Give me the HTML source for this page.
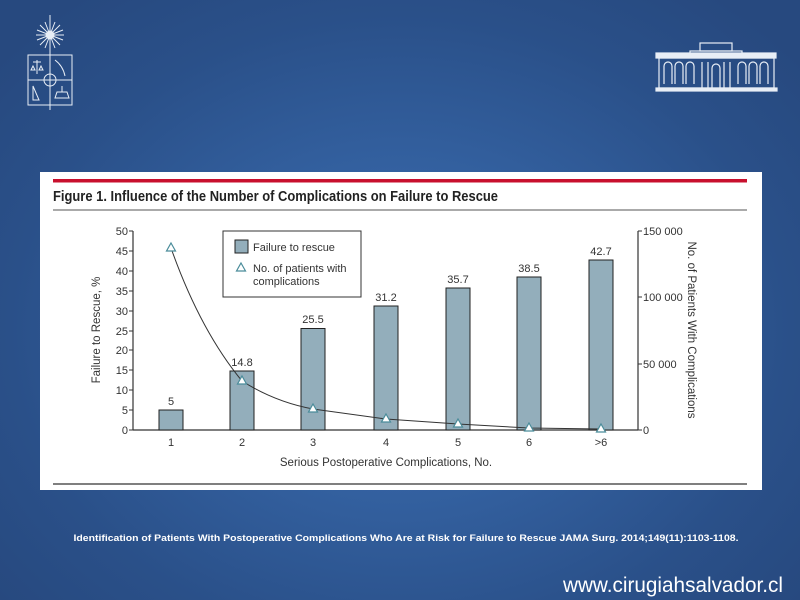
<!DOCTYPE html>
<html><head><meta charset="utf-8"><style>
html,body{margin:0;padding:0;}
body{width:800px;height:600px;overflow:hidden;position:relative;font-family:"Liberation Sans",sans-serif;
background:radial-gradient(ellipse 520px 420px at 400px 330px,#3f6fae 0%,#33609f 40%,#2a5089 75%,#27497f 100%);}
</style></head><body>
<svg width="800" height="600" style="position:absolute;left:0;top:0" font-family="Liberation Sans, sans-serif">
<!-- shield logo -->
<g stroke="#e8eef6" fill="none" stroke-width="1">
<g transform="translate(50,35)">
<line x1="-14" y1="0" x2="14" y2="0"/><line x1="0" y1="-20" x2="0" y2="20"/>
<line x1="-10" y1="-10" x2="10" y2="10"/><line x1="-10" y1="10" x2="10" y2="-10"/>
<line x1="-13" y1="-5" x2="13" y2="5"/><line x1="-13" y1="5" x2="13" y2="-5"/>
<line x1="-5" y1="-13" x2="5" y2="13"/><line x1="5" y1="-13" x2="-5" y2="13"/>
<circle r="4" fill="#e8eef6"/>
</g>
<rect x="28" y="55" width="44" height="50"/>
<line x1="50" y1="55" x2="50" y2="110"/><line x1="28" y1="80" x2="72" y2="80"/>
<circle cx="50" cy="80" r="6"/>
<path d="M33 62 l8 0 M37 60 l0 14 M33 66 l-2 4 l4 0 z M41 66 l-2 4 l4 0z"/>
<path d="M55 60 q8 6 10 16"/>
<path d="M33 86 l6 14 l-6 0z M55 98 l14 0 l-2-6 l-10 0z M62 86 l0 6"/>
</g>
<!-- building logo -->
<g stroke="#e8eef6" fill="none" stroke-width="1.2">
<rect x="700" y="43" width="32" height="8"/>
<rect x="690" y="51" width="52" height="6"/>
<rect x="656" y="53" width="120" height="5" fill="#e8eef6"/>
<rect x="659" y="58" width="115" height="30"/>
<path d="M664 84 v-18 a4 4 0 0 1 8 0 v18 M675 84 v-18 a4 4 0 0 1 8 0 v18 M686 84 v-18 a4 4 0 0 1 8 0 v18"/>
<path d="M738 84 v-18 a4 4 0 0 1 8 0 v18 M749 84 v-18 a4 4 0 0 1 8 0 v18 M760 84 v-18 a4 4 0 0 1 8 0 v18"/>
<path d="M702 88 v-26 M708 88 v-26 M724 88 v-26 M730 88 v-26 M712 88 v-20 a4 4 0 0 1 8 0 v20"/>
<rect x="656" y="88" width="121" height="3" fill="#e8eef6"/>
</g>

<!-- white panel -->
<rect x="40" y="172" width="722" height="318" fill="#ffffff"/>
<rect x="53" y="179" width="694" height="3.5" fill="#c8102e"/>
<text x="53" y="201" font-size="14.5" font-weight="bold" fill="#222" textLength="445" lengthAdjust="spacingAndGlyphs">Figure 1. Influence of the Number of Complications on Failure to Rescue</text>
<line x1="53" y1="210" x2="747" y2="210" stroke="#555" stroke-width="1"/>
<line x1="53" y1="484" x2="747" y2="484" stroke="#333" stroke-width="1.2"/>

<!-- axes -->
<g stroke="#333" stroke-width="1.2" fill="none">
<line x1="133" y1="231" x2="133" y2="430"/>
<line x1="133" y1="430" x2="638" y2="430"/>
<line x1="638" y1="231" x2="638" y2="430"/>
</g>
<g stroke="#333" stroke-width="1">
<line x1="129" y1="231" x2="133" y2="231"/><line x1="129" y1="251" x2="133" y2="251"/>
<line x1="129" y1="271" x2="133" y2="271"/><line x1="129" y1="291" x2="133" y2="291"/>
<line x1="129" y1="311" x2="133" y2="311"/><line x1="129" y1="331" x2="133" y2="331"/>
<line x1="129" y1="350" x2="133" y2="350"/><line x1="129" y1="370" x2="133" y2="370"/>
<line x1="129" y1="390" x2="133" y2="390"/><line x1="129" y1="410" x2="133" y2="410"/>
<line x1="129" y1="430" x2="133" y2="430"/>
<line x1="638" y1="231" x2="642" y2="231"/><line x1="638" y1="297" x2="642" y2="297"/>
<line x1="638" y1="364" x2="642" y2="364"/><line x1="638" y1="430" x2="642" y2="430"/>
</g>
<g font-size="11" fill="#333" text-anchor="end">
<text x="128" y="235">50</text><text x="128" y="255">45</text><text x="128" y="275">40</text>
<text x="128" y="295">35</text><text x="128" y="315">30</text><text x="128" y="335">25</text>
<text x="128" y="354">20</text><text x="128" y="374">15</text><text x="128" y="394">10</text>
<text x="128" y="414">5</text><text x="128" y="434">0</text>
</g>
<g font-size="11" fill="#333">
<text x="643" y="235">150 000</text><text x="643" y="301">100 000</text>
<text x="643" y="368">50 000</text><text x="643" y="434">0</text>
</g>
<text transform="translate(100,330) rotate(-90)" font-size="11.5" fill="#333" text-anchor="middle">Failure to Rescue, %</text>
<text transform="translate(688,330) rotate(90)" font-size="11.5" fill="#333" text-anchor="middle">No. of Patients With Complications</text>

<!-- bars -->
<g fill="#93aebb" stroke="#222" stroke-width="1">
<rect x="159" y="410" width="24" height="20"/>
<rect x="230" y="371" width="24" height="59"/>
<rect x="301" y="328.5" width="24" height="101.5"/>
<rect x="374" y="306" width="24" height="124"/>
<rect x="446" y="288" width="24" height="142"/>
<rect x="517" y="277" width="24" height="153"/>
<rect x="589" y="260" width="24" height="170"/>
</g>
<g font-size="11" fill="#333" text-anchor="middle">
<text x="171" y="405">5</text><text x="242" y="366">14.8</text><text x="313" y="323">25.5</text>
<text x="386" y="301">31.2</text><text x="458" y="283">35.7</text><text x="529" y="272">38.5</text>
<text x="601" y="255">42.7</text>
</g>
<g font-size="11" fill="#333" text-anchor="middle">
<text x="171" y="446">1</text><text x="242" y="446">2</text><text x="313" y="446">3</text>
<text x="386" y="446">4</text><text x="458" y="446">5</text><text x="529" y="446">6</text>
<text x="601" y="446">&gt;6</text>
</g>
<text x="386" y="466" font-size="11.5" fill="#333" text-anchor="middle">Serious Postoperative Complications, No.</text>

<!-- line -->
<path d="M171 248 Q200 330 242 381 Q275 402 313 409 L386 419 L458 424 L529 428 L601 429" fill="none" stroke="#333" stroke-width="1"/>
<g fill="#fff" stroke="#4a8c9a" stroke-width="1.2">
<path d="M171 243 l4.5 8 h-9z"/><path d="M242 376 l4.5 8 h-9z"/><path d="M313 404 l4.5 8 h-9z"/>
<path d="M386 414 l4.5 8 h-9z"/><path d="M458 419 l4.5 8 h-9z"/><path d="M529 423 l4.5 8 h-9z"/>
<path d="M601 424 l4.5 8 h-9z"/>
</g>

<!-- legend -->
<rect x="223" y="231" width="138" height="66" fill="#fff" stroke="#333" stroke-width="1"/>
<rect x="235" y="240" width="13" height="13" fill="#93aebb" stroke="#222"/>
<text x="253" y="251" font-size="11" fill="#333">Failure to rescue</text>
<path d="M241 263 l4.5 8 h-9z" fill="#fff" stroke="#4a8c9a" stroke-width="1.2"/>
<text x="253" y="272" font-size="11" fill="#333">No. of patients with</text>
<text x="253" y="285" font-size="11" fill="#333">complications</text>

<!-- footer -->
<text x="406" y="541" font-size="9" font-weight="bold" fill="#fff" text-anchor="middle" textLength="665" lengthAdjust="spacingAndGlyphs">Identification of Patients With Postoperative Complications Who Are at Risk for Failure to Rescue JAMA Surg. 2014;149(11):1103-1108.</text>
<text x="783" y="592" font-size="21" fill="#fff" text-anchor="end" textLength="220" lengthAdjust="spacingAndGlyphs">www.cirugiahsalvador.cl</text>
</svg>
</body></html>
